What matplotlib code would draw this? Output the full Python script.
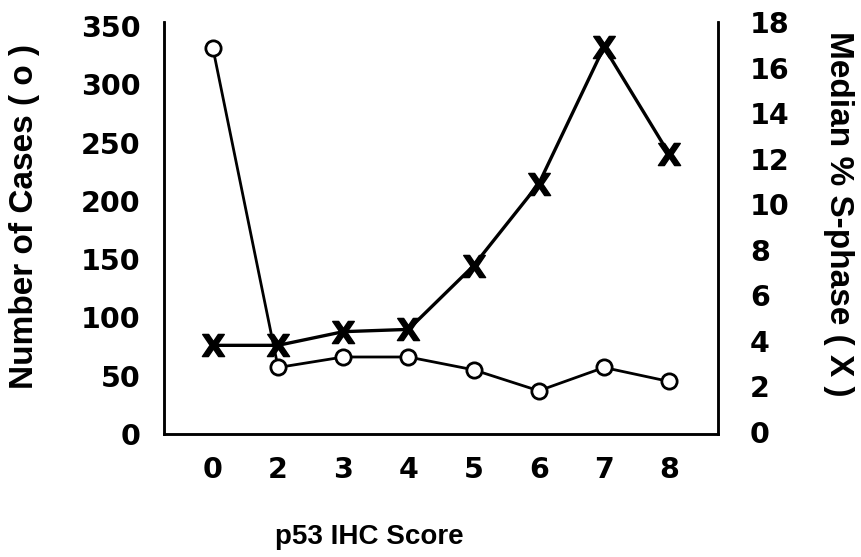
import matplotlib
matplotlib.use("Agg")
import matplotlib.pyplot as plt
import numpy as np

plt.rcParams['font.family'] = ['Liberation Sans', 'DejaVu Sans']
plt.rcParams['font.weight'] = 'bold'

# p53 IHC score groups
scores = ['0', '2', '3', '4', '5', '6', '7', '8']
# number of cases per score (left axis, open circles)
n_cases = [331, 57, 66, 66, 55, 37, 57, 45]
# median % S-phase per score (right axis, X marks)
s_phase = [3.8, 3.8, 4.4, 4.5, 7.3, 10.9, 16.9, 12.2]

x = np.arange(len(scores))

fig = plt.figure(figsize=(8.61, 5.57), dpi=100)
ax = fig.add_axes([0.1905, 0.221, 0.6435, 0.7395])
ax2 = ax.twinx()

ax.plot(x, n_cases, color='black', lw=2, marker='o', ms=11,
        mfc='white', mec='black', mew=2, zorder=3)
ax2.plot(x, s_phase, color='black', lw=2.4, marker=r'$\mathbf{X}$', ms=16,
         mfc='black', mec='black', zorder=3)

ax.set_xlim(-0.75, 7.75)
ax.set_ylim(0, 353.5)
ax2.set_ylim(-0.09, 18.0)

ax.set_xticks(x)
ax.set_xticklabels(scores)
ax.set_yticks(np.arange(0, 351, 50))
ax2.set_yticks(np.arange(0, 19, 2))

tick_font = dict(family='DejaVu Sans', weight='bold', size=20.5)
for a in (ax, ax2):
    a.spines['top'].set_visible(False)
    for s in ('left', 'right', 'bottom'):
        a.spines[s].set_linewidth(1.8)
    a.tick_params(length=0)
    for lab in a.get_xticklabels() + a.get_yticklabels():
        lab.set_fontproperties(tick_font)

ax.tick_params(axis='y', pad=17)
ax.tick_params(axis='x', pad=16)
ax2.tick_params(axis='y', pad=23)

fig.text(0.028, 0.612, 'Number of Cases ( o )', rotation=90, ha='center', va='center',
         fontsize=24, fontweight='bold')
fig.text(0.974, 0.616, 'Median % S-phase ( X )', rotation=270, ha='center', va='center',
         fontsize=24, fontweight='bold')
fig.text(0.4286, 0.036, 'p53 IHC Score', ha='center', va='center',
         fontsize=20, fontweight='bold')

fig.savefig('out.png', dpi=100)
